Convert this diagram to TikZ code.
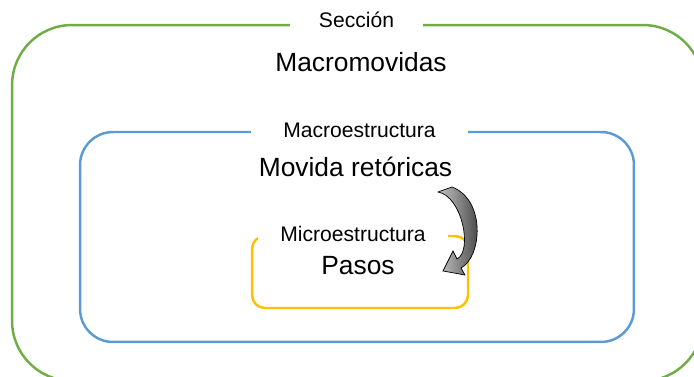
\documentclass[tikz,border=0pt]{standalone}
\usepackage{fontspec}
\setmainfont{Liberation Sans}
\usepackage{tikz}

\definecolor{verdeSec}{HTML}{70AD47}
\definecolor{azulMacro}{HTML}{5B9BD5}
\definecolor{amarilloMicro}{HTML}{FFC000}

\begin{document}
\begin{tikzpicture}[x=0.02cm, y=-0.02cm,
    caja/.style={draw, line width=1.4pt, inner sep=0pt},
    etiqueta/.style={fill=white, inner sep=1pt, anchor=base, font=\fontsize{12}{14}\selectfont},
    titulo/.style={anchor=base, inner sep=0pt, font=\fontsize{15}{18}\selectfont},
    flecha/.style={draw=black, line width=0.4pt, left color=gray!45, right color=black!80}]
    % Marco (1 px = 0.02 cm)
    \clip (0,0) rectangle (694,377);

    % Cajas
    \node[caja, draw=verdeSec, rounded corners=1.2cm, minimum width=13.82cm, minimum height=7.12cm] (seccion) at (357.5,203) {};
    \node[caja, draw=azulMacro, rounded corners=0.66cm, minimum width=11.08cm, minimum height=4.2cm] (macro) at (357,237) {};
    \node[caja, draw=amarilloMicro, rounded corners=0.26cm, minimum width=4.32cm, minimum height=1.44cm] (micro) at (360,272) {};

    % Etiquetas sobre los bordes
    \node[etiqueta, minimum width=2.66cm] (lseccion) at (356.5,28) {Sección};
    \node[etiqueta, minimum width=4.34cm] (lmacro) at (359.5,137.5) {Macroestructura};
    \node[etiqueta, minimum width=3.8cm] (lmicro) at (353,241.5) {Microestructura};

    % Textos
    \node[titulo] (macromovidas) at (361,72) {Macromovidas};
    \node[titulo] (movidas) at (355.5,177) {Movida retóricas};
    \node[titulo] (pasos) at (358,275) {Pasos};

    % Flecha curva
    \draw[flecha] (438,192) .. controls (462,196) and (473,251) .. (457,259)
        -- (453,251) -- (443,271) -- (465,275) -- (461,268)
        .. controls (482,257) and (486,200) .. (452,187) -- cycle;
\end{tikzpicture}
\end{document}
